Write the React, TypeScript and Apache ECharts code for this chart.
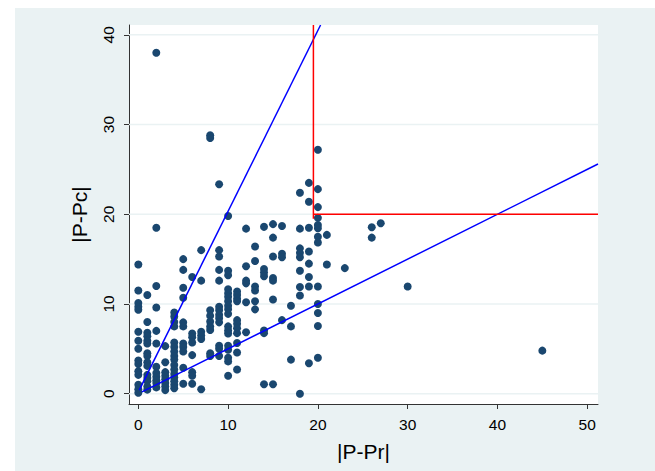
import React, { useEffect, useRef } from "react";
import * as echarts from "echarts";

// x column -> y values
const colX: number[] = [0, 1, 2, 3, 4, 5, 6, 7, 8, 9, 10, 11, 12, 13, 14, 15, 16, 17, 18, 19, 20, 21, 23, 26, 27, 30, 45];
const colY: number[][] = [
  [14.4, 11.5, 10.1, 9.7, 9.35, 6.9, 5.9, 5.0, 3.7, 3.3, 2.5, 2.1, 1.0, 0.5, 0.1],
  [11.0, 8.0, 6.8, 6.4, 5.9, 5.6, 4.5, 4.2, 3.5, 3.1, 2.1, 1.75, 1.4, 0.8, 0.45],
  [38.0, 18.5, 12.0, 9.6, 7.0, 5.6, 3.0, 2.3, 1.9, 1.5, 1.2, 0.7],
  [5.3, 3.5, 2.4, 2.0, 1.6, 1.2, 0.8, 0.4],
  [9.05, 8.6, 8.0, 7.5, 5.7, 5.2, 4.7, 4.2, 3.8, 3.2, 2.7, 2.2, 1.8, 1.4, 1.0, 0.6],
  [15.0, 13.8, 11.8, 10.7, 7.95, 7.5, 5.6, 5.2, 4.7, 2.9, 1.1],
  [13.0, 6.7, 6.3, 5.7, 4.3, 2.4, 2.0, 1.1],
  [16.0, 12.6, 6.9, 6.5, 6.1, 0.5],
  [28.8, 28.5, 9.3, 8.7, 8.05, 7.5, 7.1, 4.5, 4.2],
  [23.35, 16.0, 15.3, 13.8, 12.6, 9.7, 9.3, 8.8, 8.4, 7.95, 5.35, 5.0, 4.2],
  [19.8, 13.7, 13.2, 11.65, 11.2, 10.8, 10.3, 9.8, 9.4, 8.9, 7.5, 7.05, 6.7, 5.35, 4.9, 4.0, 3.6, 2.0],
  [11.4, 11.0, 10.6, 10.3, 8.2, 7.8, 7.3, 6.75, 5.65, 4.6, 2.7],
  [18.4, 14.2, 12.6, 12.3, 10.2, 6.85],
  [16.4, 14.8, 11.95, 11.5, 10.3, 9.4],
  [18.6, 13.9, 13.5, 13.1, 7.05, 6.75, 1.05],
  [18.9, 17.4, 15.3, 12.9, 12.6, 10.5, 1.05],
  [18.7, 15.6, 15.2, 8.2],
  [9.8, 7.5, 3.8],
  [22.4, 18.4, 16.2, 15.7, 15.2, 13.7, 11.9, 10.95, 0.0],
  [23.5, 21.4, 18.5, 15.85, 14.5, 13.0, 11.95, 3.4],
  [27.2, 22.8, 20.8, 19.6, 18.8, 18.45, 17.5, 16.85, 11.95, 10.0, 9.0, 7.55, 4.0],
  [17.7, 14.4],
  [14.0],
  [18.55, 17.4],
  [19.0],
  [11.95],
  [4.8],
];

const steepLine: number[][] = [[0.1, 0.4], [20.3, 41.1]];
const shallowLine: number[][] = [[0.4, 0.2], [51.2, 25.6]];
const redVertical: number[][] = [[19.5, 19.5], [19.5, 41.1]];
const redHorizontal: number[][] = [[19.5, 20], [51.2, 20]];

const xTicks: number[] = [0, 10, 20, 30, 40, 50];
const yTicks: number[] = [0, 10, 20, 30, 40];

const X_MIN = -1.04;
const X_MAX = 51.2;
const Y_MIN = -1.15;
const Y_MAX = 41.1;

export default function App() {
  const ref = useRef<HTMLDivElement>(null);
  useEffect(() => {
    if (!ref.current) return;
    const chart = echarts.init(ref.current, undefined, { renderer: "svg" });
    const points: number[][] = [];
    colX.forEach((x, i) => colY[i].forEach((y) => points.push([x, y])));
    const font = "'Liberation Sans', Arial, Helvetica, sans-serif";
    const gridSeries = yTicks.map((y) => ({
      type: "line",
      data: [[X_MIN, y], [X_MAX, y]],
      showSymbol: false,
      silent: true,
      z: 1,
      lineStyle: { color: "#EAF2F3", width: 1.5 },
    }));
    const lineSeries = (data: number[][], color: string) => ({
      type: "line",
      data,
      showSymbol: false,
      silent: true,
      z: 5,
      lineStyle: { color, width: 1.5 },
    });
    chart.setOption({
      animation: false,
      backgroundColor: "#EAF2F3",
      grid: {
        left: 114,
        right: 57,
        top: 17,
        bottom: 67,
        show: true,
        backgroundColor: "#ffffff",
        borderWidth: 0,
      },
      xAxis: {
        type: "value",
        min: X_MIN,
        max: X_MAX,
        name: "|P-Pr|",
        nameLocation: "middle",
        nameGap: 37,
        nameTextStyle: { fontSize: 21, color: "#000", fontFamily: font },
        axisLine: { show: true, onZero: false, lineStyle: { color: "#333", width: 1 } },
        axisTick: { show: true, length: 5, customValues: xTicks, lineStyle: { color: "#333" } },
        axisLabel: { customValues: xTicks, fontSize: 15.5, color: "#000", fontFamily: font, margin: 12 },
        splitLine: { show: false },
      },
      yAxis: {
        type: "value",
        min: Y_MIN,
        max: Y_MAX,
        name: "|P-Pc|",
        nameLocation: "middle",
        nameGap: 39,
        nameTextStyle: { fontSize: 21, color: "#000", fontFamily: font },
        axisLine: { show: true, onZero: false, lineStyle: { color: "#333", width: 1 } },
        axisTick: { show: true, length: 5, customValues: yTicks, lineStyle: { color: "#333" } },
        axisLabel: { customValues: yTicks, fontSize: 15.5, color: "#000", fontFamily: font, rotate: 90, margin: 13 },
        splitLine: { show: false },
      },
      series: [
        ...gridSeries,
        {
          type: "scatter",
          data: points,
          symbolSize: 8,
          z: 3,
          itemStyle: { color: "#1A476F", opacity: 1 },
        },
        lineSeries(steepLine, "#0000FF"),
        lineSeries(shallowLine, "#0000FF"),
        lineSeries(redVertical, "#FF0000"),
        lineSeries(redHorizontal, "#FF0000"),
      ],
    });
    return () => chart.dispose();
  }, []);
  return (
    <div
      ref={ref}
      style={{ position: "fixed", left: 15, top: 8, width: 640, height: 463 }}
    />
  );
}
